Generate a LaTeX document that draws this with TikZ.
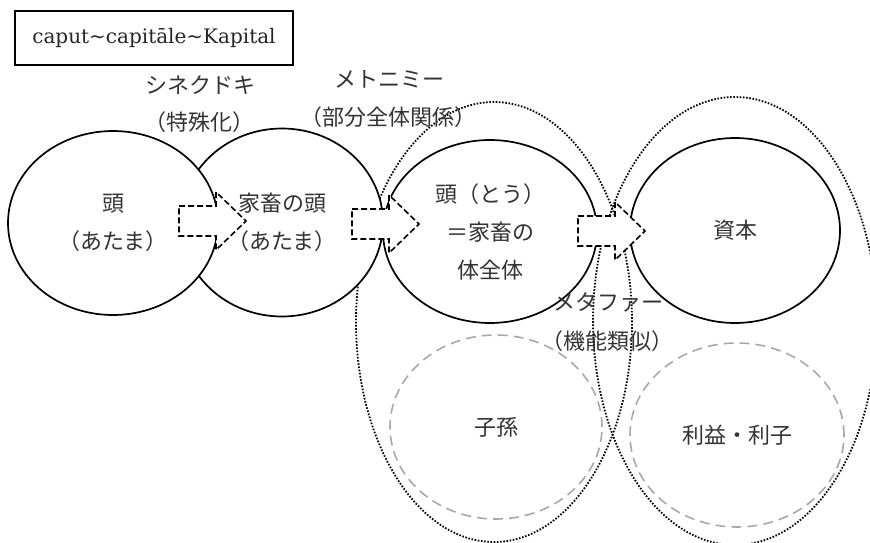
\documentclass[tikz,border=0pt]{standalone}
\usepackage{fontspec}
\setmainfont{DejaVu Serif}
\newfontfamily\jpfont{Noto Sans CJK JP}
\usetikzlibrary{shapes.geometric}
\begin{document}
\begin{tikzpicture}[x=1pt,y=-1pt,
  jp/.style={font=\jpfont\fontsize{22}{38}\selectfont, text=black!80, align=center},
  solidc/.style={ellipse, draw=black, line width=1.7pt, fill=white, inner sep=0pt, jp},
  dotell/.style={ellipse, draw=black, line width=1.8pt, dash pattern=on 1.6pt off 1.6pt, inner sep=0pt},
  graydash/.style={ellipse, draw=black!34, line width=1.6pt, dash pattern=on 10pt off 6pt, inner sep=0pt, jp},
  arrowline/.style={draw=black, fill=white, line width=1.6pt, dash pattern=on 6pt off 3pt, line join=miter},
  lbl/.style={jp, inner sep=0pt},
  blockarrow/.pic={\draw[arrowline] (0,-15) -- (37,-15) -- (37,-29) -- (67,0) -- (37,29) -- (37,15) -- (0,15) -- cycle;}
]
\useasboundingbox (0,0) rectangle (870,543);

% dotted groupings
\node[dotell, minimum width=276pt, minimum height=440pt] (ea) at (494,322) {};
\node[dotell, minimum width=284pt, minimum height=448pt] (eb) at (735,321) {};

% dashed gray circles
\node[graydash, minimum width=212pt, minimum height=184pt] (d1) at (496,427) {子孫};
\node[graydash, minimum width=214pt, minimum height=184pt] (d2) at (737,435) {利益・利子};

% solid circles
\node[solidc, minimum width=202pt, minimum height=188pt] (c2) at (282,222.5) {家畜の頭\\（あたま）};
\node[solidc, minimum width=210pt, minimum height=184pt] (c1) at (113,223) {頭\\（あたま）};
\node[solidc, minimum width=214pt, minimum height=183pt] (c3) at (490,231.5) {頭（とう）\\＝家畜の\\体全体};
\node[solidc, minimum width=210pt, minimum height=185pt] (c4) at (735,230.5) {資本};

% block arrows
\pic (a1) at (179,221) {blockarrow};
\pic (a2) at (352,224) {blockarrow};
\pic (a3) at (578,231) {blockarrow};

% labels
\node[lbl] (syn) at (200,85) {シネクドキ};
\node[lbl] (syn2) at (199,122) {（特殊化）};
\node[lbl] (met) at (389,79) {メトニミー};
\node[lbl] (met2) at (388,117) {（部分全体関係）};
\node[lbl] (meta) at (608,302) {メタファー};
\node[lbl] (meta2) at (607,341) {（機能類似）};

% title box
\node[draw=black, line width=1.6pt, minimum width=278pt, minimum height=54pt, inner sep=0pt,
  font=\fontsize{20}{24}\selectfont, text=black!85] (title) at (154,38)
  {caput\textasciitilde capitāle\textasciitilde Kapital};
\end{tikzpicture}
\end{document}
